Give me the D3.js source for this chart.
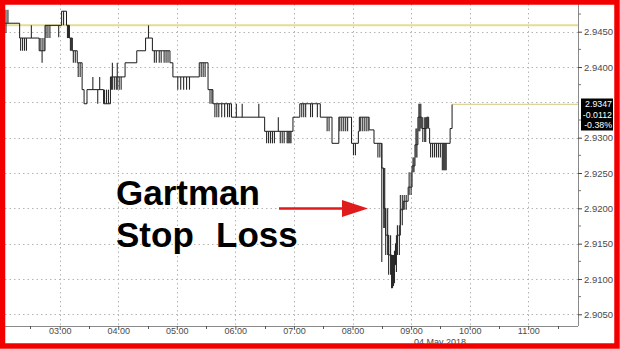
<!DOCTYPE html>
<html>
<head>
<meta charset="utf-8">
<script src="https://cdn.jsdelivr.net/npm/d3@7"></script>
<style>
  html, body { margin: 0; padding: 0; background: #fff; }
  svg { display: block; }
  text { font-family: "Liberation Sans", Arial, sans-serif; }
</style>
</head>
<body>
<div class="canvas"></div>
<script>
// DATA - minutes after midnight, price levels

// close levels of the step line
const stepMinutes = [124, 139, 159, 165, 182, 187, 190, 193, 198, 203, 205, 208, 225, 232, 247, 259, 268, 275, 293, 296,
  323, 332, 337, 356, 390, 419, 426, 447, 459, 466, 479, 486, 487, 497, 502, 510, 512, 514, 517, 520,
  524, 526, 529, 532, 537, 541, 544, 547, 551, 556, 558, 559, 580, 582];
const stepValues = [2.9462, 2.9441, 2.9423, 2.9459, 2.9479, 2.9459, 2.9441, 2.9423, 2.9406, 2.9368, 2.9348, 2.9368, 2.9348, 2.9386, 2.9406, 2.9423, 2.9441, 2.9423, 2.9406, 2.9386,
  2.9406, 2.9368, 2.9348, 2.9329, 2.9309, 2.9329, 2.9348, 2.9329, 2.9292, 2.9329, 2.9292, 2.9309, 2.9329, 2.9311, 2.9292, 2.9257, 2.9200, 2.9162, 2.9134, 2.9120,
  2.9150, 2.9162, 2.9198, 2.9210, 2.9230, 2.9260, 2.9290, 2.9329, 2.9313, 2.9329, 2.9313, 2.9292, 2.9313, 2.9347];

// high / low ticks inside each minute: [minute, low, high]
const ranges = [
  [125, 2.9448, 2.9481], [127, 2.9462, 2.9481],
  [140, 2.9423, 2.9441], [142, 2.9423, 2.9441], [144, 2.9423, 2.9441], [146, 2.9423, 2.9441],
  [151, 2.9441, 2.9459],
  [160, 2.9423, 2.9441], [162, 2.9406, 2.9441], [164, 2.9423, 2.9441],
  [166, 2.9441, 2.9459], [168, 2.9441, 2.9459], [170, 2.9441, 2.9459],
  [179, 2.9442, 2.9459], [184, 2.9459, 2.9479],
  [188, 2.9441, 2.9459], [189, 2.9441, 2.9459],
  [191, 2.9423, 2.9441], [192, 2.9423, 2.9441],
  [194, 2.9406, 2.9423], [196, 2.9406, 2.9423],
  [199, 2.9386, 2.9406], [201, 2.9386, 2.9406],
  [214, 2.9368, 2.9386], [219, 2.9348, 2.9368], [221, 2.9368, 2.9386],
  [226, 2.9348, 2.9368], [228, 2.9348, 2.9368], [230, 2.9348, 2.9368],
  [233, 2.9368, 2.9386], [234, 2.9368, 2.9406], [236, 2.9368, 2.9386], [238, 2.9368, 2.9386],
  [239, 2.9368, 2.9406], [241, 2.9368, 2.9386], [243, 2.9368, 2.9386],
  [271, 2.9441, 2.9459],
  [277, 2.9406, 2.9423], [279, 2.9406, 2.9423], [282, 2.9406, 2.9423], [284, 2.9406, 2.9423],
  [287, 2.9406, 2.9423], [289, 2.9406, 2.9423], [291, 2.9406, 2.9423],
  [301, 2.9368, 2.9386], [304, 2.9368, 2.9386], [307, 2.9368, 2.9386], [310, 2.9368, 2.9386], [313, 2.9368, 2.9386],
  [325, 2.9386, 2.9406], [327, 2.9386, 2.9406], [329, 2.9386, 2.9406],
  [334, 2.9348, 2.9368], [336, 2.9348, 2.9368],
  [339, 2.9329, 2.9348], [341, 2.9329, 2.9348], [343, 2.9329, 2.9348], [346, 2.9329, 2.9348],
  [349, 2.9329, 2.9348], [352, 2.9329, 2.9348], [354, 2.9329, 2.9348],
  [361, 2.9329, 2.9348], [367, 2.9329, 2.9348], [384, 2.9329, 2.9348],
  [392, 2.9292, 2.9309], [394, 2.9292, 2.9309], [396, 2.9292, 2.9309], [398, 2.9292, 2.9309],
  [400, 2.9292, 2.9309], [404, 2.9309, 2.9329], [406, 2.9292, 2.9309], [408, 2.9292, 2.9309],
  [410, 2.9292, 2.9309], [413, 2.9292, 2.9309], [414, 2.9292, 2.9309], [415, 2.9292, 2.9309],
  [416, 2.9292, 2.9309], [417, 2.9292, 2.9309],
  [428, 2.9329, 2.9348], [430, 2.9329, 2.9348], [432, 2.9329, 2.9348], [437, 2.9329, 2.9348],
  [439, 2.9329, 2.9348], [444, 2.9329, 2.9348],
  [454, 2.9309, 2.9329], [456, 2.9309, 2.9329],
  [467, 2.9309, 2.9329], [469, 2.9309, 2.9329], [471, 2.9309, 2.9329], [473, 2.9309, 2.9329], [475, 2.9309, 2.9329],
  [481, 2.9275, 2.9292], [483, 2.9275, 2.9292],
  [488, 2.9309, 2.9329], [490, 2.9309, 2.9329], [492, 2.9309, 2.9329], [494, 2.9309, 2.9329], [496, 2.9309, 2.9329],
  [506, 2.9272, 2.9292], [508, 2.9272, 2.9292],
  [510, 2.9124, 2.9292],
  [512, 2.9172, 2.9257], [513, 2.9172, 2.9257],
  [514, 2.9134, 2.9200], [516, 2.9134, 2.9200],
  [517, 2.9106, 2.9162], [519, 2.9106, 2.9162],
  [520, 2.9087, 2.9134], [521, 2.9087, 2.9134], [522, 2.9090, 2.9134], [523, 2.9094, 2.9140],
  [525, 2.9110, 2.9162], [526, 2.9134, 2.9176], [528, 2.9134, 2.9176],
  [529, 2.9176, 2.9219], [531, 2.9176, 2.9219],
  [533, 2.9198, 2.9219], [535, 2.9198, 2.9219],
  [538, 2.9219, 2.9251], [540, 2.9219, 2.9251],
  [542, 2.9251, 2.9272], [543, 2.9251, 2.9272],
  [545, 2.9272, 2.9313], [546, 2.9272, 2.9313],
  [548, 2.9309, 2.9348], [549, 2.9309, 2.9348], [550, 2.9313, 2.9348],
  [552, 2.9294, 2.9329], [554, 2.9294, 2.9329], [555, 2.9294, 2.9329],
  [557, 2.9313, 2.9329],
  [560, 2.9272, 2.9292], [562, 2.9272, 2.9292], [564, 2.9272, 2.9292], [566, 2.9272, 2.9292],
  [568, 2.9272, 2.9292], [570, 2.9272, 2.9292],
  [572, 2.9254, 2.9292], [573, 2.9254, 2.9292], [574, 2.9254, 2.9292], [575, 2.9254, 2.9292], [576, 2.9254, 2.9292]
];

const prevClose = 2.9459;
const lastPrice = 2.9347;
const lastLabels = ['2.9347', '-0.0112', '-0.38%'];

const yGridTicks = [2.9050, 2.9100, 2.9150, 2.9200, 2.9250, 2.9300, 2.9350, 2.9400, 2.9450];
// 2.9350 sits under the last-price tag, so it gets no label
const yLabelTicks = [2.9050, 2.9100, 2.9150, 2.9200, 2.9250, 2.9300, 2.9400, 2.9450];
const yMinorTicks = [2.9075, 2.9125, 2.9175, 2.9225, 2.9275, 2.9325, 2.9375, 2.9425, 2.9475];
const xHourTicks = [180, 240, 300, 360, 420, 480, 540, 600, 660];
const xHalfTicks = [150, 210, 270, 330, 390, 450, 510, 570, 630, 690];
const dateLabel = '04 May 2018';
const noteLines = ['Gartman', 'Stop', 'Loss'];

// SVG + plot area
const W = 620, H = 349;
const plot = {left: 5, right: 578, top: 4, bottom: 326};

const svg = d3.select('.canvas').append('svg')
  .attr('width', W)
  .attr('height', H);

svg.append('rect').attr('width', W).attr('height', H).attr('fill', '#fff');

// scales
const x = d3.scaleLinear().domain([124, 711]).range([plot.left, plot.right]);
const y = d3.scaleLinear().domain([2.9050, 2.9450]).range([314.3, 31.7]);

const grid = svg.append('g');

// dotted grid
grid.selectAll('line.h').data(yGridTicks).enter().append('line')
  .attr('x1', plot.left).attr('x2', plot.right)
  .attr('y1', d => Math.round(y(d)) + 0.5).attr('y2', d => Math.round(y(d)) + 0.5)
  .attr('stroke', '#b4b4b4').attr('stroke-dasharray', '1.5,3');

grid.selectAll('line.v').data(xHourTicks).enter().append('line')
  .attr('x1', d => Math.round(x(d)) + 0.5).attr('x2', d => Math.round(x(d)) + 0.5)
  .attr('y1', plot.top).attr('y2', plot.bottom)
  .attr('stroke', '#b4b4b4').attr('stroke-dasharray', '1.5,3');

// previous close line
svg.append('line')
  .attr('x1', plot.left).attr('x2', plot.right)
  .attr('y1', y(prevClose)).attr('y2', y(prevClose))
  .attr('stroke', '#e4dc92').attr('stroke-width', 2);

// last price line out to the axis
svg.append('line')
  .attr('x1', x(stepMinutes[stepMinutes.length - 1])).attr('x2', plot.right)
  .attr('y1', y(lastPrice)).attr('y2', y(lastPrice))
  .attr('stroke', '#ddd49a').attr('stroke-width', 1.2);

// step line of closes
const steps = stepMinutes.map((m, i) => [m, stepValues[i]]);
const stepLine = d3.line()
  .x(d => x(d[0]))
  .y(d => y(d[1]))
  .curve(d3.curveStepAfter);

svg.append('path')
  .datum(steps)
  .attr('d', stepLine)
  .attr('fill', 'none')
  .attr('stroke', '#1a1a1a')
  .attr('stroke-width', 1);

// hi-lo ticks
svg.append('g').selectAll('line').data(ranges).enter().append('line')
  .attr('x1', d => x(d[0])).attr('x2', d => x(d[0]))
  .attr('y1', d => y(d[1])).attr('y2', d => y(d[2]))
  .attr('stroke', '#2a2a2a')
  .attr('stroke-width', 1.1);

// right axis
const yAxis = d3.axisRight(y).tickValues(yLabelTicks).tickFormat(d3.format('.4f')).tickSize(4).tickPadding(2);
const yAxisGroup = svg.append('g')
  .attr('transform', `translate(${plot.right}, 0)`)
  .call(yAxis);
yAxisGroup.select('.domain').attr('d', `M0.5,${plot.top}V${plot.bottom}`).attr('stroke', '#8a8a8a');
yAxisGroup.selectAll('.tick line').attr('stroke', '#444');
yAxisGroup.selectAll('text').attr('font-size', 9.5).attr('fill', '#4a4a4a');

svg.append('g').selectAll('line').data(yMinorTicks).enter().append('line')
  .attr('x1', plot.right).attr('x2', plot.right + 3)
  .attr('y1', d => y(d)).attr('y2', d => y(d))
  .attr('stroke', '#777');

// bottom axis
const xAxis = d3.axisBottom(x)
  .tickValues(xHourTicks)
  .tickFormat(d => d3.format('02d')(Math.floor(d / 60)) + ':00')
  .tickSize(3).tickPadding(0);
const xAxisGroup = svg.append('g')
  .attr('transform', `translate(0, ${plot.bottom})`)
  .call(xAxis);
xAxisGroup.select('.domain').attr('d', `M${plot.left},0.5H${plot.right}`).attr('stroke', '#8a8a8a');
xAxisGroup.selectAll('.tick line').attr('stroke', '#555');
xAxisGroup.selectAll('text').attr('y', 2).attr('font-size', 9).attr('fill', '#4a4a4a');

svg.append('g').selectAll('line').data(xHalfTicks).enter().append('line')
  .attr('x1', d => Math.round(x(d)) + 0.5).attr('x2', d => Math.round(x(d)) + 0.5)
  .attr('y1', plot.bottom).attr('y2', plot.bottom + 3)
  .attr('stroke', '#555');

svg.append('text')
  .attr('x', 440).attr('y', 344.5)
  .attr('text-anchor', 'middle')
  .attr('font-size', 9).attr('fill', '#4a4a4a')
  .text(dateLabel);

// last price tag
const tagY = y(lastPrice);
const tag = svg.append('g');
tag.append('path')
  .attr('d', `M${plot.right - 2},${tagY} L${plot.right + 3},${tagY - 6} V${tagY + 26} H613 V${tagY - 6} H${plot.right + 3} Z`)
  .attr('fill', '#000');
tag.selectAll('text').data(lastLabels).enter().append('text')
  .attr('x', 612).attr('y', (d, i) => tagY + 3 + i * 10.3)
  .attr('text-anchor', 'end')
  .attr('font-size', 8.8).attr('fill', '#fff')
  .text(d => d);

// annotation
const note = svg.append('g')
  .attr('font-weight', 'bold').attr('font-size', 35).attr('fill', '#000');
note.append('text').attr('x', 116).attr('y', 205).text(noteLines[0]);
note.append('text').attr('x', 116).attr('y', 247).text(noteLines[1]);
note.append('text').attr('x', 216).attr('y', 247).text(noteLines[2]);

svg.append('line')
  .attr('x1', 279).attr('x2', 346)
  .attr('y1', 208.5).attr('y2', 208.5)
  .attr('stroke', '#e01b1b').attr('stroke-width', 2.5);
svg.append('path')
  .attr('d', 'M342,200 L368,208.5 L342,217 Z')
  .attr('fill', '#e01b1b');

// red frame
svg.append('rect')
  .attr('x', 2.5).attr('y', 2).attr('width', W - 5.5).attr('height', H - 5)
  .attr('fill', 'none')
  .attr('stroke', '#f20000')
  .attr('stroke-width', 5.5);
</script>
</body>
</html>
